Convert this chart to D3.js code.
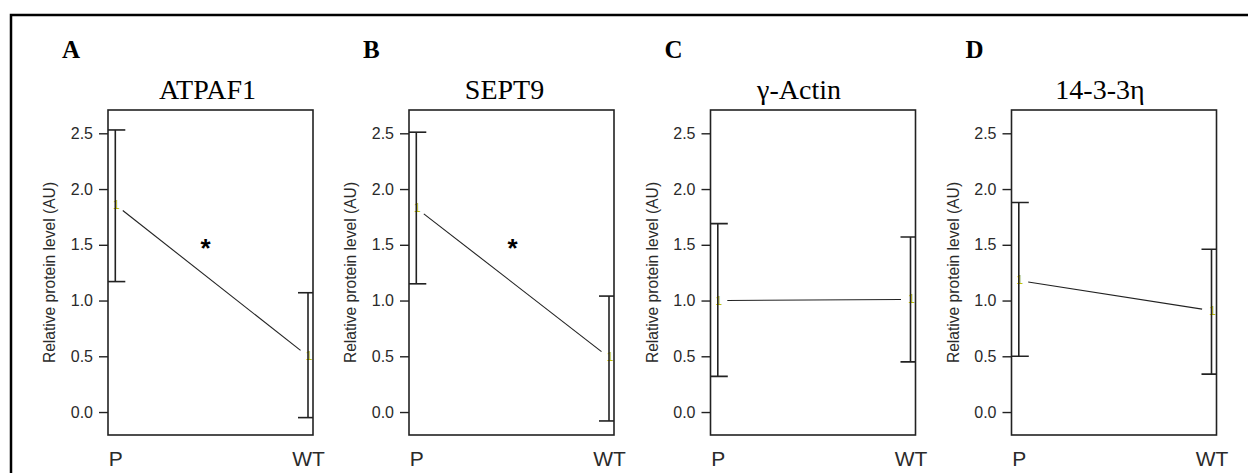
<!DOCTYPE html>
<html>
<head>
<meta charset="utf-8">
<script src="https://cdn.jsdelivr.net/npm/d3@7"></script>
<style>
  body { margin: 0; background: #fff; }
  svg { display: block; }
</style>
</head>
<body>
<div id="chart"></div>
<script>
// data
var panelLetters = ["A", "B", "C", "D"];
var titles = ["ATPAF1", "SEPT9", "γ-Actin", "14-3-3η"];
var groups = ["P", "WT"];
var means = [[1.86, 0.50], [1.83, 0.49], [1.00, 1.01], [1.18, 0.91]];
var lower = [[1.17, -0.05], [1.15, -0.08], [0.32, 0.45], [0.50, 0.34]];
var upper = [[2.53, 1.07], [2.51, 1.04], [1.69, 1.57], [1.88, 1.46]];
var signif = ["*", "*", "", ""];
var yTicks = [0, 0.5, 1, 1.5, 2, 2.5];

// layout
var W = 1248, H = 473;
var boxLeft = [108, 409, 710.5, 1011.5];
var titleShift = [-3, -7, -14, -14];
var boxTop = 110, boxW = 205, boxH = 325;

var svg = d3.select("#chart").append("svg")
    .attr("width", W)
    .attr("height", H);

// outer frame (runs off the right and bottom edge)
svg.append("rect")
    .attr("x", 11).attr("y", 15)
    .attr("width", W + 20).attr("height", H + 20)
    .attr("fill", "none")
    .attr("stroke", "#000")
    .attr("stroke-width", 2.5);

// scales shared by all panels
var x = d3.scalePoint().domain(groups).range([7.3, 200]);
var y = d3.scaleLinear().domain([-0.206, 2.709]).range([boxH, 0]);

panelLetters.forEach(function(letter, i) {
    var g = svg.append("g")
        .attr("transform", "translate(" + boxLeft[i] + "," + boxTop + ")");

    // panel letter
    svg.append("text")
        .attr("x", boxLeft[i] - 46)
        .attr("y", 58)
        .style("font-family", "Liberation Serif, Times New Roman, serif")
        .style("font-weight", "bold")
        .style("font-size", "25px")
        .text(letter);

    // title
    svg.append("text")
        .attr("x", boxLeft[i] + boxW / 2 + titleShift[i])
        .attr("y", 99)
        .attr("text-anchor", "middle")
        .style("font-family", "Liberation Serif, Times New Roman, serif")
        .style("font-size", "28px")
        .text(titles[i]);

    var clipId = "clip" + i;
    g.append("clipPath").attr("id", clipId)
      .append("rect")
        .attr("width", boxW).attr("height", boxH);

    // y axis
    var yAxis = g.append("g")
        .call(d3.axisLeft(y).tickValues(yTicks).tickSize(9).tickPadding(6)
            .tickFormat(d3.format(".1f")));
    yAxis.select(".domain").remove();
    yAxis.selectAll(".tick line").attr("stroke", "#222").attr("stroke-width", 1.4);
    yAxis.selectAll(".tick text")
        .attr("fill", "#2a2a2a")
        .style("font-family", "Liberation Sans, Arial, sans-serif")
        .style("font-size", "16px");

    // x labels
    var xAxis = g.append("g")
        .attr("transform", "translate(0," + boxH + ")")
        .call(d3.axisBottom(x).tickSize(0).tickPadding(16));
    xAxis.select(".domain").remove();
    xAxis.selectAll(".tick text")
        .attr("fill", "#2a2a2a")
        .style("font-family", "Liberation Sans, Arial, sans-serif")
        .style("font-size", "21px");

    // y axis title
    g.append("text")
        .attr("transform", "translate(-53," + (boxH / 2) + ") rotate(-90)")
        .attr("text-anchor", "middle")
        .attr("fill", "#2a2a2a")
        .style("font-family", "Liberation Sans, Arial, sans-serif")
        .style("font-size", "15.6px")
        .text("Relative protein level (AU)");

    var pts = groups.map(function(gr, j) {
        return {g: gr, m: means[i][j], lo: lower[i][j], hi: upper[i][j]};
    });

    // point symbols
    g.selectAll(".pt")
        .data(pts)
        .enter().append("text")
        .attr("class", "pt")
        .attr("x", function(d) { return x(d.g) + 1; })
        .attr("y", function(d) { return y(d.m) + 4; })
        .attr("text-anchor", "middle")
        .attr("fill", "#c4c400")
        .style("font-family", "Liberation Sans, Arial, sans-serif")
        .style("font-size", "12px")
        .text("1");

    // connecting line with gaps at the points
    var x1 = x(groups[0]), y1 = y(means[i][0]);
    var x2 = x(groups[1]), y2 = y(means[i][1]);
    var len = Math.sqrt((x2 - x1) * (x2 - x1) + (y2 - y1) * (y2 - y1));
    var gap = 9.5;
    g.append("line")
        .attr("x1", x1 + (x2 - x1) * gap / len)
        .attr("y1", y1 + (y2 - y1) * gap / len)
        .attr("x2", x2 - (x2 - x1) * gap / len)
        .attr("y2", y2 - (y2 - y1) * gap / len)
        .attr("stroke", "#222")
        .attr("stroke-width", 1.1);

    // error bars
    var bars = g.append("g").attr("clip-path", "url(#" + clipId + ")");
    bars.selectAll(".bar")
        .data(pts)
        .enter().append("line")
        .attr("x1", function(d) { return x(d.g); })
        .attr("x2", function(d) { return x(d.g); })
        .attr("y1", function(d) { return y(d.hi); })
        .attr("y2", function(d) { return y(d.lo); })
        .attr("stroke", "#222")
        .attr("stroke-width", 1.6);
    ["hi", "lo"].forEach(function(k) {
        bars.selectAll(".cap" + k)
            .data(pts)
            .enter().append("line")
            .attr("x1", function(d) { return x(d.g) - 10; })
            .attr("x2", function(d) { return x(d.g) + 10; })
            .attr("y1", function(d) { return y(d[k]); })
            .attr("y2", function(d) { return y(d[k]); })
            .attr("stroke", "#222")
            .attr("stroke-width", 1.6);
    });

    // significance mark
    if (signif[i]) {
        g.append("text")
            .attr("x", (x1 + x2) / 2 - (i === 0 ? 6 : 0))
            .attr("y", y(1.5) + 12)
            .attr("text-anchor", "middle")
            .style("font-family", "Liberation Sans, Arial, sans-serif")
            .style("font-weight", "bold")
            .style("font-size", "26px")
            .text(signif[i]);
    }

    // plot box
    g.append("rect")
        .attr("width", boxW).attr("height", boxH)
        .attr("fill", "none")
        .attr("stroke", "#222")
        .attr("stroke-width", 1.6);
});
</script>
</body>
</html>
